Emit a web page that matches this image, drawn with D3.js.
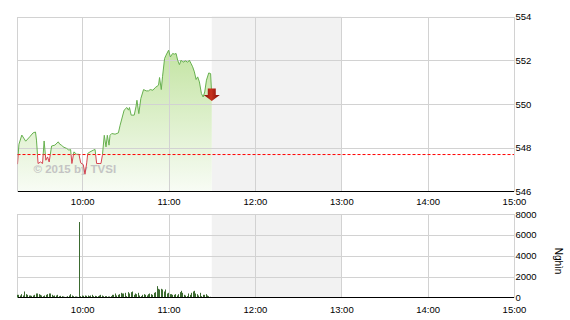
<!DOCTYPE html>
<meta charset="utf-8">

<!-- Load d3.js -->
<script src="https://d3js.org/d3.v7.min.js"></script>

<div id="chart"></div>

<style>
body {
    margin: 0;
    background: #fff;
}

text {
    font-family: "Liberation Sans", Arial, sans-serif;
}

.grid line {
  stroke: #d2d2d2;
  shape-rendering: crispEdges;
}

.grid path {
    stroke-width: 0;
}
</style>
<script>
// index: minutes after 9:00 and value
var priceMinute = [15, 16, 18, 20.7, 23.5, 25.8, 27.5, 28.2, 29.3, 31,
    32.4, 33.5, 34.7, 35.9, 37, 38.7, 41, 43.3, 44.4, 45.6,
    46.7, 49.1, 50.7, 51.9, 52.8, 54.2, 56.1, 57.7, 58.9, 60.7,
    61.9, 63.1, 63.8, 65.4, 67.7, 68.9, 70, 71.7, 73, 74,
    75.3, 76.5, 77.4, 78.6, 79.3, 80.5, 82.8, 85.1, 86.3, 89.1,
    91, 92.1, 92.8, 94, 96.1, 97.3, 98, 99.3, 100.7, 102.6,
    104.4, 106, 107.2, 109.1, 110.7, 113, 113.7, 114.9, 115.8, 117.2,
    118.2, 120, 121.2, 122.8, 124, 125.2, 126.3, 127.5, 128.7, 130,
    131.7, 133.3, 134.4, 135.6, 136.7, 137.9, 139.1, 140.2, 141.4, 142.8,
    144, 145.1, 146.3, 147.9, 149.2, 150];
var priceValue = [547.25, 548.16, 548.58, 548.30, 548.50, 548.68, 548.72, 548.35, 547.28, 547.35,
    547.28, 548.31, 547.43, 547.58, 547.35, 548.08, 548.12, 548.27, 548.16, 548.12,
    548.04, 547.97, 547.89, 547.92, 547.28, 547.81, 547.70, 547.70, 547.31, 547.23,
    546.79, 547.31, 547.74, 547.81, 547.89, 547.92, 547.28, 547.28, 547.28, 547.66,
    548.57, 548.04, 548.57, 548.12, 548.57, 548.65, 548.62, 548.68, 549.03, 549.72,
    549.84, 549.72, 549.84, 549.49, 549.49, 549.87, 550.17, 549.56, 550.25, 550.66,
    550.60, 550.60, 550.66, 550.63, 550.75, 550.86, 551.21, 550.66, 551.27, 552.08,
    552.23, 552.46, 552.15, 552.31, 552.28, 552.31, 552.00, 551.80, 552.00, 551.91,
    551.97, 551.91, 552.00, 551.85, 551.70, 551.47, 551.12, 551.24, 551.01, 550.48,
    550.32, 550.55, 551.09, 551.42, 551.39, 550.32];
var refValue = 547.69;   // previous close

// volume (Nghin), one bar per minute starting 9:15
var volStartMinute = 15;
var volValue = [256, 256, 192, 320, 192, 576, 320, 256, 192, 192,
    160, 192, 256, 384, 384, 320, 256, 192, 128, 192,
    256, 320, 384, 384, 256, 160, 192, 192, 256, 128,
    160, 128, 96, 64, 64, 128, 192, 320, 192, 128,
    96, 96, 64, 7230, 128, 192, 160, 192, 160, 192,
    128, 192, 256, 128, 160, 128, 128, 192, 256, 192,
    128, 128, 128, 96, 96, 128, 256, 256, 384, 192,
    256, 320, 448, 384, 384, 448, 128, 512, 384, 512,
    576, 256, 384, 320, 448, 192, 128, 256, 320, 256,
    192, 320, 384, 320, 256, 448, 512, 1088, 832, 768,
    832, 768, 576, 768, 384, 448, 320, 320, 256, 256,
    320, 192, 320, 512, 640, 448, 256, 192, 128, 384,
    256, 448, 576, 640, 384, 320, 192, 448, 128, 256,
    256, 320, 192, 128, 64];

var hourTicks = [10, 11, 12, 13, 14, 15];
var priceTicks = [546, 548, 550, 552, 554];
var volTicks = [0, 2000, 4000, 6000, 8000];
var lunchMinute = [150, 240];   // 11:30 - 13:00
var sessionMinute = [15, 360];  // 9:15 - 15:00

function t(min) {
    return new Date(2015, 0, 1, 9, 0, Math.round(min * 60));
}

var W = 570, H = 320;
var left = 17.5, right = 514;
var top1 = 16.5, bot1 = 191.5;
var top2 = 214, bot2 = 297.5;

var svg = d3.select("#chart").append("svg")
    .attr("width", W)
    .attr("height", H);

var x = d3.scaleTime()
    .domain([t(sessionMinute[0]), t(sessionMinute[1])])
    .range([left, right]);

var y1 = d3.scaleLinear().domain([546, 554]).range([bot1, top1]);
var y2 = d3.scaleLinear().domain([0, 8000]).range([bot2, top2]);

var hourDates = hourTicks.map(function(h) { return t((h - 9) * 60); });
var timeFmt = d3.timeFormat("%H:%M");

var defs = svg.append("defs");
var grad = defs.append("linearGradient")
    .attr("id", "areaGrad")
    .attr("gradientUnits", "userSpaceOnUse")
    .attr("x1", 0).attr("x2", 0)
    .attr("y1", y1(553)).attr("y2", bot1);
grad.append("stop").attr("offset", 0).attr("stop-color", "#bfe29c");
grad.append("stop").attr("offset", 1).attr("stop-color", "#f8fcf5");

var arrowGrad = defs.append("linearGradient")
    .attr("id", "arrowGrad")
    .attr("x1", 0).attr("x2", 1).attr("y1", 0).attr("y2", 0);
arrowGrad.append("stop").attr("offset", 0).attr("stop-color", "#7e0a06");
arrowGrad.append("stop").attr("offset", 0.45).attr("stop-color", "#c8321e");
arrowGrad.append("stop").attr("offset", 1).attr("stop-color", "#7e0a06");

defs.append("clipPath").attr("id", "clipUp")
    .append("rect")
    .attr("x", left).attr("width", right - left)
    .attr("y", top1).attr("height", y1(refValue) - top1);
defs.append("clipPath").attr("id", "clipDown")
    .append("rect")
    .attr("x", left).attr("width", right - left)
    .attr("y", y1(refValue)).attr("height", bot1 - y1(refValue));

// ---------- shared frame: lunch band, grid, borders ----------
function frame(y, top, bot, ticks) {
    svg.append("rect")
        .attr("x", x(t(lunchMinute[0])))
        .attr("width", x(t(lunchMinute[1])) - x(t(lunchMinute[0])))
        .attr("y", top)
        .attr("height", bot - top)
        .attr("fill", "#f2f2f2");
}

function grid(y, top, bot, ticks) {
    svg.append("g")
        .attr("class", "grid")
        .attr("transform", "translate(0," + bot + ")")
        .call(d3.axisBottom(x).tickValues(hourDates).tickSize(-(bot - top)).tickFormat(""));

    svg.append("g")
        .attr("class", "grid")
        .attr("transform", "translate(" + left + ",0)")
        .call(d3.axisLeft(y).tickValues(ticks).tickSize(-(right - left)).tickFormat(""));

    svg.append("line")
        .attr("x1", left).attr("x2", left)
        .attr("y1", top).attr("y2", bot)
        .attr("stroke", "#d2d2d2")
        .attr("shape-rendering", "crispEdges");

    svg.append("line")
        .attr("x1", left).attr("x2", right)
        .attr("y1", bot).attr("y2", bot)
        .attr("stroke", "#000")
        .attr("shape-rendering", "crispEdges");
}

function labels(y, bot, ticks, pad, fmt) {
    svg.append("g")
        .attr("transform", "translate(" + right + ",0)")
        .call(d3.axisRight(y).tickValues(ticks).tickSize(0).tickPadding(1.5).tickFormat(fmt))
        .call(function(g) { g.select(".domain").remove(); })
        .selectAll("text")
        .attr("font-size", "9.5px")
        .attr("font-family", "Liberation Sans, Arial, sans-serif")
        .attr("fill", "#000");

    svg.append("g")
        .attr("transform", "translate(0," + bot + ")")
        .call(d3.axisBottom(x).tickValues(hourDates).tickSize(0).tickPadding(pad).tickFormat(timeFmt))
        .call(function(g) { g.select(".domain").remove(); })
        .selectAll("text")
        .attr("font-size", "9.5px")
        .attr("font-family", "Liberation Sans, Arial, sans-serif")
        .attr("fill", "#000");
}

// ---------- price chart ----------
var pts = priceMinute.map(function(m, i) { return {d: t(m), v: priceValue[i]}; });

frame(y1, top1, bot1, priceTicks);

svg.append("path")
    .datum(pts)
    .attr("fill", "url(#areaGrad)")
    .attr("d", d3.area()
        .x(function(d) { return x(d.d); })
        .y0(bot1)
        .y1(function(d) { return y1(d.v); }));

grid(y1, top1, bot1, priceTicks.filter(function(v) { return v > 546; }));

svg.append("text")
    .attr("x", 33.5)
    .attr("y", 172.5)
    .attr("font-size", "11.5px")
    .attr("font-weight", "bold")
    .attr("fill", "#c4c4c4")
    .text("\u00a9 2015 by TVSI");

svg.append("line")
    .attr("x1", left).attr("x2", right)
    .attr("y1", y1(refValue)).attr("y2", y1(refValue))
    .attr("stroke", "#ff0000")
    .attr("stroke-dasharray", "3,2");

var priceLine = d3.line()
    .x(function(d) { return x(d.d); })
    .y(function(d) { return y1(d.v); });

svg.append("path")
    .datum(pts)
    .attr("clip-path", "url(#clipUp)")
    .attr("fill", "none")
    .attr("stroke", "#67b04f")
    .attr("stroke-width", 1)
    .attr("d", priceLine);

svg.append("path")
    .datum(pts)
    .attr("clip-path", "url(#clipDown)")
    .attr("fill", "none")
    .attr("stroke", "#d4434f")
    .attr("stroke-width", 1)
    .attr("d", priceLine);

// down arrow at last price
var last = pts[pts.length - 1];
var ex = x(last.d), ey = y1(last.v);
svg.append("path")
    .attr("fill", "url(#arrowGrad)")
    .attr("d", "M" + (ex - 4) + "," + (ey - 8.5) +
        "H" + (ex + 4) + "V" + (ey - 2) +
        "H" + (ex + 8) + "L" + ex + "," + (ey + 4) +
        "L" + (ex - 8) + "," + (ey - 2) +
        "H" + (ex - 4) + "Z");

labels(y1, bot1, priceTicks, 7, d3.format("d"));

// ---------- volume chart ----------
frame(y2, top2, bot2, volTicks);
grid(y2, top2, bot2, volTicks.filter(function(v) { return v > 0; }));

svg.selectAll(".vol")
    .data(volValue)
    .enter()
    .append("rect")
    .attr("class", "vol")
    .attr("x", function(d, i) { return Math.round(x(t(volStartMinute + i)) - 0.5); })
    .attr("width", 1)
    .attr("y", function(d) { return y2(d); })
    .attr("height", function(d) { return bot2 - y2(d); })
    .attr("fill", "#3b6a30");

svg.append("line")
    .attr("x1", left).attr("x2", right)
    .attr("y1", bot2).attr("y2", bot2)
    .attr("stroke", "#000")
    .attr("shape-rendering", "crispEdges");

labels(y2, bot2, volTicks, 8.5, d3.format("d"));

svg.append("text")
    .attr("transform", "translate(558,261) rotate(90)")
    .attr("text-anchor", "middle")
    .attr("dy", "0.35em")
    .attr("font-size", "10px")
    .attr("fill", "#000")
    .text("Nghìn");
</script>
